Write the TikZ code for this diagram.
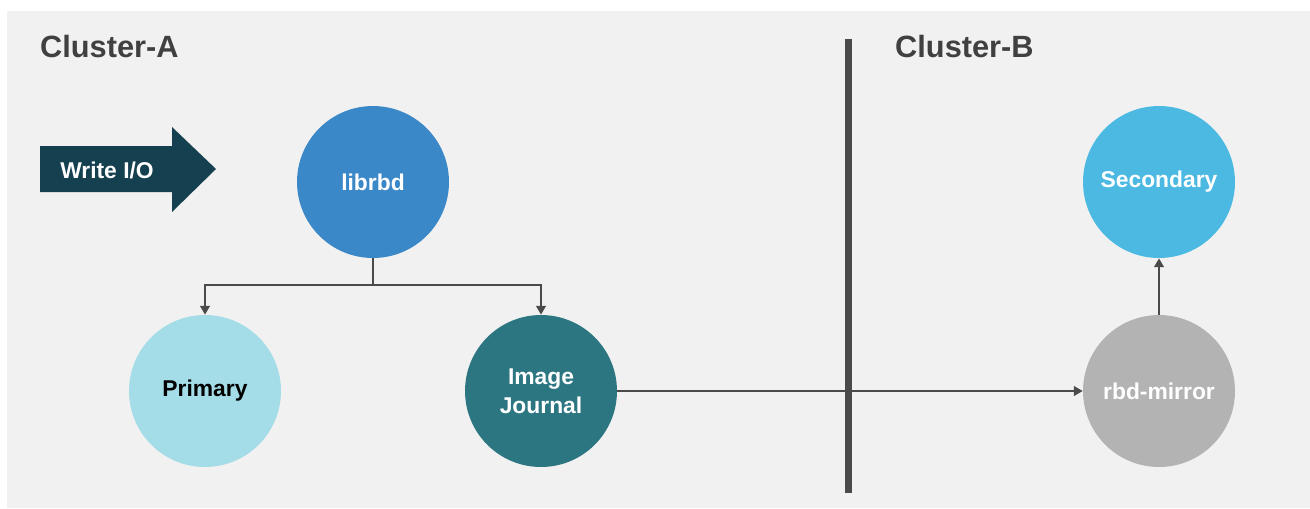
\documentclass[tikz,border=0pt]{standalone}
\usepackage{fontspec}
\setmainfont{Liberation Sans}
\usetikzlibrary{arrows.meta}
\definecolor{bggray}{HTML}{F1F1F1}
\definecolor{labgray}{HTML}{404040}
\definecolor{linegray}{HTML}{4A4A4A}
\definecolor{ioblue}{HTML}{15404F}
\definecolor{libblue}{HTML}{3B88C8}
\definecolor{secblue}{HTML}{4BB9E2}
\definecolor{primblue}{HTML}{A4DDE8}
\definecolor{jourteal}{HTML}{2C7682}
\definecolor{mirgray}{HTML}{B3B3B3}
\tikzset{
  disk/.style={circle,inner sep=0pt,minimum size=3.04cm,align=center,
    font=\bfseries\fontsize{13}{16.5}\selectfont,text=white},
  clusterlabel/.style={anchor=west,text=labgray,font=\bfseries\fontsize{17.5}{20}\selectfont},
  conn/.style={draw=linegray,line width=1.1pt,-{Triangle[length=5pt,width=5.5pt]}},
  plainconn/.style={draw=linegray,line width=1.1pt}
}
\begin{document}
\begin{tikzpicture}[x=0.02cm,y=-0.02cm]
    \useasboundingbox (0,0) rectangle (1310,508);
    \fill[bggray] (7,11) rectangle (1310,508);

    % cluster labels and divider
    \node[clusterlabel] (clustera) at (34,47) {Cluster-A};
    \node[clusterlabel] (clusterb) at (889,47) {Cluster-B};
    \draw[linegray,line width=4pt] (848,39) -- (848,493);

    % write path
    \fill[ioblue] (40,146) -- (172,146) -- (172,127) -- (216,169)
        -- (172,212) -- (172,192) -- (40,192) -- cycle;
    \node[text=white,font=\bfseries\fontsize{13}{15}\selectfont] (wio) at (107,170) {Write I/O};

    \node[disk,fill=libblue] (librbd) at (373,182) {librbd};
    \node[disk,fill=primblue,text=black] (primary) at (205,391) {Primary};
    \node[disk,fill=jourteal] (journal) at (541,391) {Image\\Journal};
    \node[disk,fill=mirgray] (mirror) at (1159,391) {rbd-mirror};
    \node[disk,fill=secblue] (secondary) at (1159,182) {Secondary};

    \coordinate (fork) at (373,285);
    \draw[plainconn] (librbd.south) -- (fork);
    \draw[conn] (fork) -| (primary.north);
    \draw[conn] (fork) -| (journal.north);
    \draw[conn] (journal.east) -- (mirror.west);
    \draw[conn] (mirror.north) -- (secondary.south);
\end{tikzpicture}
\end{document}
